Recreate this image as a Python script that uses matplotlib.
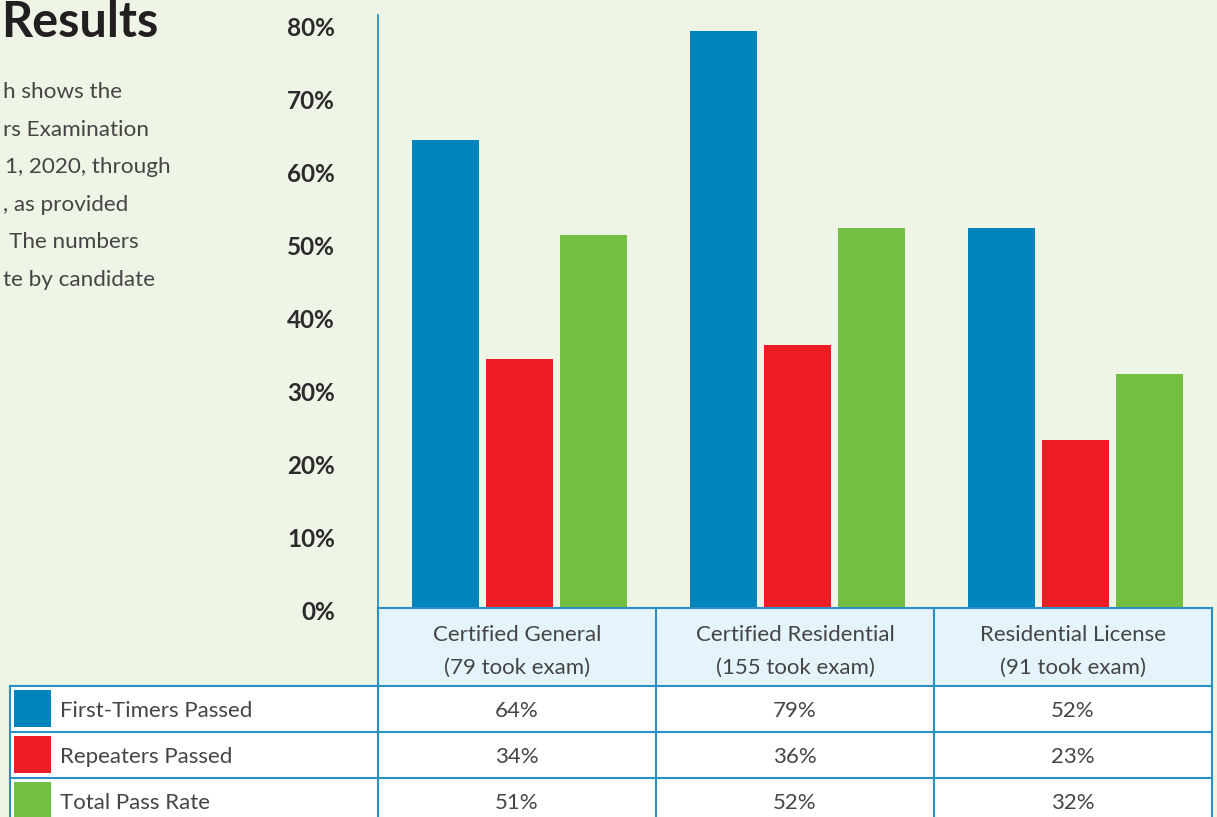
import matplotlib
matplotlib.use("Agg")
import matplotlib.pyplot as plt
from matplotlib.patches import Rectangle
from matplotlib.transforms import ScaledTranslation
import numpy as np

# ---------------- data ----------------
categories = ["Certified General", "Certified Residential", "Residential License"]
takers = [79, 155, 91]
series_names = ["First-Timers Passed", "Repeaters Passed", "Total Pass Rate"]
first_timers = [64, 79, 52]
repeaters = [34, 36, 23]
total_pass = [51, 52, 32]
y_ticks = [0, 10, 20, 30, 40, 50, 60, 70, 80]

title_text = "Results"
body_lines = ["h shows the", "rs Examination", "1, 2020, through",
              ", as provided", "The numbers", "te by candidate"]

# ---------------- style ----------------
BG = "#eef5e6"
HEADER_BG = "#e5f3fb"
LINE = "#2a8fc5"
TXT = "#454545"
colors = ["#0084bc", "#ee1c25", "#72bf44"]
FONT = "Lato"
LIGHT = "normal"

W, H = 1217, 817
fig = plt.figure(figsize=(W / 100, H / 100), dpi=100, facecolor=BG)

def fx(px):
    return px / W

def fy(py):
    return 1 - py / H

# plot axes (pixel layout)
ax_left, ax_right, ax_top, ax_bottom = 378, 1212, 15, 608
ax = fig.add_axes([fx(ax_left), fy(ax_bottom), fx(ax_right - ax_left), (ax_bottom - ax_top) / H])
ax.set_facecolor(BG)
px_per_pct = 7.31
ax.set_ylim(0, (ax_bottom - ax_top) / px_per_pct)
ax.set_xlim(-0.5, len(categories) - 0.5)

series = [first_timers, repeaters, total_pass]
x = np.arange(len(categories))
bw = 67 / 278
step = 74 / 278
shift = 2.5 / 278
for i, (vals, c) in enumerate(zip(series, colors)):
    ax.bar(x + (i - 1) * step + shift, vals, width=bw, color=c, linewidth=0, zorder=2)

for s in ["top", "right", "bottom"]:
    ax.spines[s].set_visible(False)
ax.spines["left"].set_color(LINE)
ax.spines["left"].set_linewidth(1.3)
ax.set_xticks([])
ax.set_yticks(y_ticks)
ax.set_yticklabels([f"{v}%" for v in y_ticks], fontfamily=FONT, fontweight="bold",
                   fontsize=17.5, color="#2b2b2b")
ax.tick_params(axis="y", length=0, pad=31)
for lab in ax.get_yticklabels():
    lab.set_transform(lab.get_transform() + ScaledTranslation(0, -3 / 100, fig.dpi_scale_trans))

# overlay in pixel coordinates for table and text
ov = fig.add_axes([0, 0, 1, 1])
ov.set_xlim(0, W)
ov.set_ylim(H, 0)
ov.axis("off")
ov.patch.set_visible(False)

# title and body text
ov.text(1, 37, title_text, fontfamily=FONT, fontweight="bold", fontsize=35,
        color="#231f20", va="baseline", ha="left")
body_x = [3, 3, 5, 3, 9, 3]
for j, (line, bx) in enumerate(zip(body_lines, body_x)):
    ov.text(bx, 98 + j * 37.6, line, fontfamily=FONT, fontweight=LIGHT, fontsize=16.2,
            color=TXT, va="baseline", ha="left")

# table
col_edges = [378, 656, 934, 1212]
lab_left = 10
head_top, head_bot = 608, 686
row_h = 46
n_rows = len(series_names)
row_tops = [head_bot + r * row_h for r in range(n_rows)]
tbl_bottom = head_bot + n_rows * row_h

ov.add_patch(Rectangle((col_edges[0], head_top), col_edges[-1] - col_edges[0],
                       head_bot - head_top, facecolor=HEADER_BG, edgecolor="none", zorder=1))
ov.add_patch(Rectangle((lab_left, head_bot), col_edges[-1] - lab_left,
                       tbl_bottom - head_bot, facecolor="white", edgecolor="none", zorder=1))

lw = 1.5
ov.plot([col_edges[0], col_edges[-1]], [head_top, head_top], color=LINE, lw=lw, zorder=3)
for yy in [head_bot] + row_tops[1:]:
    ov.plot([lab_left, col_edges[-1]], [yy, yy], color=LINE, lw=lw, zorder=3)
for xx in col_edges:
    ov.plot([xx, xx], [head_top, tbl_bottom], color=LINE, lw=lw, zorder=3)
ov.plot([lab_left, lab_left], [head_bot, tbl_bottom], color=LINE, lw=lw, zorder=3)

TS = 16
centers = [(col_edges[k] + col_edges[k + 1]) / 2 for k in range(len(categories))]
for k, (cat, n) in enumerate(zip(categories, takers)):
    ov.text(centers[k], 641, cat, fontfamily=FONT, fontweight=LIGHT, fontsize=TS,
            color=TXT, ha="center", va="baseline", zorder=4)
    ov.text(centers[k], 674, f"({n} took exam)", fontfamily=FONT, fontweight=LIGHT,
            fontsize=TS, color=TXT, ha="center", va="baseline", zorder=4)

for r, (name, vals, c) in enumerate(zip(series_names, series, colors)):
    top = row_tops[r]
    base = top + 31
    ov.add_patch(Rectangle((14, top + 4), 37, 37, facecolor=c, edgecolor="none", zorder=4))
    ov.text(60, base, name, fontfamily=FONT, fontweight=LIGHT, fontsize=TS,
            color=TXT, ha="left", va="baseline", zorder=4)
    for k, v in enumerate(vals):
        ov.text(centers[k], base, f"{v}%", fontfamily=FONT, fontweight=LIGHT,
                fontsize=TS, color=TXT, ha="center", va="baseline", zorder=4)

fig.savefig("out.png", dpi=100, facecolor=BG)
